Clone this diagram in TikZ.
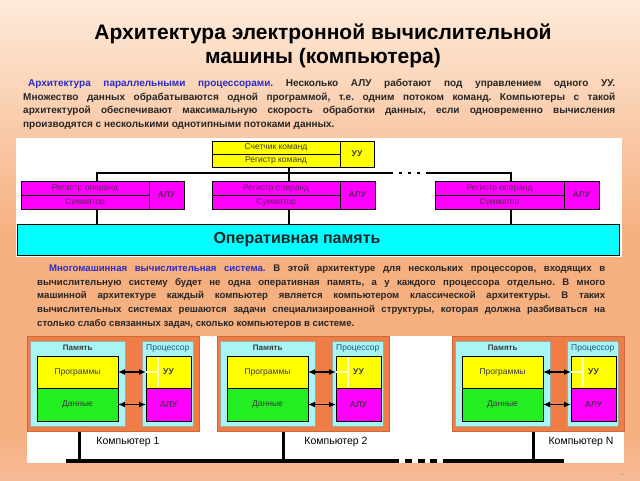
\documentclass[tikz,border=0pt]{standalone}
\usepackage{fontspec}
\setmainfont{Liberation Sans}
\usepackage{xcolor}
\usetikzlibrary{arrows.meta,positioning}

\definecolor{peachbg}{HTML}{FEF1E4}
\definecolor{orangebg}{HTML}{F6AF7F}
\definecolor{pinkbg}{HTML}{FADDE0}
\definecolor{comporange}{HTML}{EE7E45}
\definecolor{memcyan}{HTML}{A8F5F5}
\definecolor{leadblue}{HTML}{2B2BC8}
\definecolor{ylw}{HTML}{FFFF00}
\definecolor{mgn}{HTML}{FF00FF}
\definecolor{cyn}{HTML}{00FFFF}
\definecolor{grn}{HTML}{22EE22}
\definecolor{celltext}{HTML}{3A3A3A}
\definecolor{mgntext}{HTML}{5C245C}
\definecolor{proctext}{HTML}{23527C}

\pgfdeclareverticalshading{bgshade}{100bp}{color(0bp)=(pinkbg); color(10bp)=(pinkbg);
  color(30bp)=(orangebg); color(50bp)=(orangebg); color(78bp)=(peachbg); color(100bp)=(peachbg)}

\begin{document}
\begin{tikzpicture}[x=1pt, y=-1pt,
  cell/.style={draw, line width=1pt, anchor=north west, inner sep=0pt, outer sep=0pt,
               font=\fontsize{8.5}{9}\selectfont, text=celltext},
  tag/.style={font=\fontsize{8.5}{9}\bfseries, text=celltext},
  computer/.style={draw=comporange!85!black, line width=0.5pt, fill=comporange,
                   anchor=north west, inner sep=0pt, minimum height=95pt},
  memfield/.style={draw=black!35, line width=0.5pt, fill=memcyan, anchor=north west,
                   inner sep=0pt, minimum height=85pt},
  para/.style={anchor=north west, align=justify, inner sep=0pt,
               font=\fontsize{10}{13.6}\bfseries\frenchspacing, text=black!85},
  wire/.style={line width=1.2pt},
  bus/.style={line width=4pt},
  twoway/.style={{Latex[length=7pt,width=6pt]}-{Latex[length=7pt,width=6pt]}, line width=1.5pt},
  glare/.style={line width=2.5pt, ylw!25!white}
]
\useasboundingbox (0,0) rectangle (640,480);
\shade[shading=bgshade] (0,0) rectangle (640,480);

% title and text
\node[font=\fontsize{21}{24.5}\bfseries, align=center] (title) at (323,46)
  {Архитектура электронной вычислительной\\машины (компьютера)};
\node[para, text width=592pt] (par1) at (23,79)
  {\hspace*{5pt}\textcolor{leadblue}{Архитектура параллельными процессорами.} Несколько АЛУ работают под управлением одного УУ.\linebreak
   Множество данных обрабатываются одной программой, т.е. одним потоком команд. Компьютеры с такой\linebreak
   архитектурой обеспечивают максимальную скорость обработки данных, если одновременно вычисления\linebreak
   производятся с несколькими однотипными потоками данных.};
\node[para, text width=568pt, font=\fontsize{9.6}{13.8}\bfseries\frenchspacing] (par2) at (37,264)
  {\hspace*{12pt}\textcolor{leadblue}{Многомашинная вычислительная система.} В этой архитектуре для нескольких процессоров, входящих в\linebreak
   вычислительную систему будет не одна оперативная память, а у каждого процессора отдельно. В много\linebreak
   машинной архитектуре каждый компьютер является компьютером классической архитектуры. В таких\linebreak
   вычислительных системах решаются задачи специализированной структуры, которая должна разбиваться на\linebreak
   столько слабо связанных задач, сколько компьютеров в системе.};

% parallel processors
\fill[white] (16,138) rectangle (622,257);
\node[cell, fill=ylw, minimum width=128pt, minimum height=13pt] (cnt) at (212,141) {Счетчик команд};
\node[cell, fill=ylw, minimum width=128pt, minimum height=13pt, below=0pt of cnt] (ir) {Регистр команд};
\node[cell, fill=ylw, minimum width=34pt, minimum height=26pt, tag] (uu) at (cnt.north east) {УУ};
\foreach \x/\w/\n in {21/128/1, 212/128/2, 435/129/3} {
  \node[cell, fill=mgn, text=mgntext, minimum width=\w pt, minimum height=14pt] (op\n) at (\x,181) {Регистр операнд};
  \node[cell, fill=mgn, text=mgntext, minimum width=\w pt, minimum height=14pt, below=0pt of op\n] (sum\n) {Сумматор};
  \node[cell, fill=mgn, tag, text=mgntext, minimum width=35pt, minimum height=28pt] (alu\n) at (op\n.north east) {АЛУ};
}
\node[cell, fill=cyn, minimum width=602pt, minimum height=31pt] (ram) at (17,224) {};
\node[font=\fontsize{16}{18}\bfseries, text=black!85] (ramtext) at ([xshift=-21pt]ram.center) {Оперативная память};

\coordinate (j1) at (97,173);
\coordinate (j2) at (289,173);
\coordinate (j3) at (511,173);
\coordinate (dotsL) at (393,173);
\coordinate (dotsR) at (426,173);
\draw[wire] (j2 |- ir.south) -- (j2) -- (j2 |- op2.north);
\draw[wire] (j1 |- op1.north) -- (j1) -- (dotsL);
\draw[wire] (dotsR) -- (j3) -- (j3 |- op3.north);
\draw[line width=2.5pt, dash pattern=on 3pt off 6pt] ([xshift=6pt]dotsL) -- ([xshift=-6pt]dotsR);
\draw[wire] (j1 |- sum1.south) -- (j1 |- ram.north);
\draw[wire] (j2 |- sum2.south) -- (j2 |- ram.north);
\draw[wire] (j3 |- sum3.south) -- (j3 |- ram.north);

% multi-machine system
\fill[white] (27,336) rectangle (624,463);
\foreach \x/\d/\l/\n in {27/52/101/1, 217/66/119/2, 452/81/129/N} {
  \node[computer, minimum width=172pt] (comp\n) at (\x,336) {};
  \node[memfield, minimum width=95pt] (mem\n) at (\x+3,341) {};
  \node[tag, font=\fontsize{8}{9}\bfseries, below=0.5pt of mem\n.north] (memlbl\n) {Память};
  \node[memfield, minimum width=51pt] (proc\n) at (\x+115,341) {};
  \node[tag, font=\fontsize{8.5}{9}\selectfont, text=proctext, below=0.3pt of proc\n.north] (proclbl\n) {Процессор};
  \node[cell, fill=ylw, minimum width=81pt, minimum height=32pt] (prog\n) at (\x+10,356) {Программы};
  \node[cell, fill=grn, minimum width=81pt, minimum height=33pt, below=0pt of prog\n] (data\n) {Данные};
  \node[cell, fill=ylw, tag, minimum width=45pt, minimum height=32pt] (cu\n) at (\x+119,356) {УУ};
  \node[cell, fill=mgn, tag, text=mgntext, minimum width=45pt, minimum height=33pt, below=0pt of cu\n] (alub\n) {АЛУ};
  \draw[glare] (\x+131,357) -- (\x+131,387);
  \draw[glare] (cu\n.west) -- ++(12,0);
  \draw[twoway] (prog\n.east) -- (cu\n.west);
  \draw[twoway] (data\n.east) -- (alub\n.west);
  \coordinate (drop\n) at (\x+\d,461);
  \draw[line width=3pt] (drop\n |- comp\n.south) -- (drop\n);
  \node[font=\fontsize{10.5}{12}\selectfont] (cname\n) at (\x+\l,442) {Компьютер \n};
}
\coordinate (busA) at (66,461);
\coordinate (busB) at (399,461);
\coordinate (busC) at (443,461);
\coordinate (busD) at (564,461);
\draw[bus] (busA) -- (busB);
\draw[bus, dash pattern=on 7pt off 5.5pt] ([xshift=6pt]busB) -- ([xshift=-6pt]busC);
\draw[bus] (busC) -- (busD);
\draw[gray!60, line width=0.8pt] (619,474) -- (625,474);
\end{tikzpicture}
\end{document}
